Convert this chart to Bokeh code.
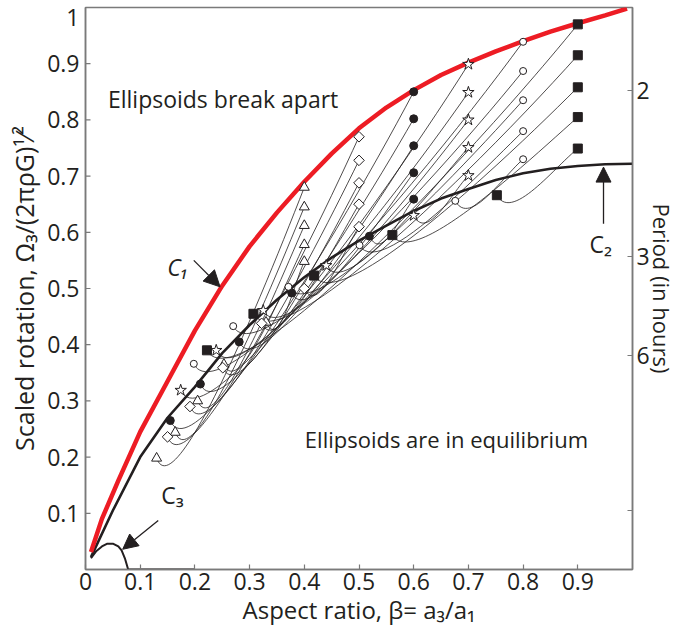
import numpy as np
from bokeh.plotting import figure
from bokeh.models import Range1d, LinearAxis, FixedTicker, Label, Arrow, NormalHead, ColumnDataSource
from bokeh.embed import file_html
from bokeh.resources import INLINE

# ---------------- data ----------------
c1_x = [0.01, 0.03, 0.06, 0.10, 0.15, 0.20, 0.25, 0.30, 0.35, 0.40, 0.45, 0.50,
        0.55, 0.60, 0.65, 0.70, 0.75, 0.80, 0.85, 0.90, 0.95, 0.99]
c1_y = [0.031, 0.09, 0.158, 0.245, 0.335, 0.425, 0.505, 0.575, 0.635, 0.69, 0.74, 0.785,
        0.822, 0.853, 0.88, 0.902, 0.922, 0.94, 0.957, 0.972, 0.986, 0.998]

c2_x = [0.01, 0.05, 0.10, 0.15, 0.20, 0.25, 0.30, 0.35, 0.40, 0.45, 0.50, 0.55,
        0.60, 0.65, 0.70, 0.75, 0.80, 0.85, 0.90, 0.95, 1.00]
c2_y = [0.022, 0.105, 0.20, 0.27, 0.325, 0.385, 0.435, 0.48, 0.52, 0.555, 0.585, 0.612,
        0.638, 0.66, 0.677, 0.693, 0.705, 0.713, 0.718, 0.721, 0.722]

c3_x = [0.01, 0.02, 0.03, 0.04, 0.05, 0.06, 0.066, 0.072, 0.078, 0.2]
c3_y = [0.02, 0.033, 0.041, 0.046, 0.046, 0.041, 0.034, 0.02, 0.0, 0.0]

# start points (x fixed per family) and end points near C2
tri_x0 = 0.4
tri_y0 = [0.68, 0.645, 0.612, 0.578, 0.548]
tri_x1 = [0.13, 0.164, 0.205, 0.253, 0.33]
tri_y1 = [0.198, 0.244, 0.30, 0.365, 0.44]

dia_x0 = 0.5
dia_y0 = [0.77, 0.728, 0.688, 0.65, 0.61]
dia_x1 = [0.15, 0.191, 0.251, 0.322, 0.40]
dia_y1 = [0.236, 0.29, 0.359, 0.438, 0.50]

dot_x0 = 0.6
dot_y0 = [0.85, 0.802, 0.754, 0.706, 0.659]
dot_x1 = [0.155, 0.21, 0.281, 0.377, 0.519]
dot_y1 = [0.265, 0.33, 0.405, 0.492, 0.593]

star_x0 = 0.7
star_y0 = [0.899, 0.849, 0.80, 0.751, 0.701]
star_x1 = [0.174, 0.239, 0.325, 0.44, 0.60]
star_y1 = [0.319, 0.39, 0.461, 0.541, 0.63]

circ_x0 = 0.8
circ_y0 = [0.939, 0.887, 0.835, 0.78, 0.73]
circ_x1 = [0.198, 0.27, 0.371, 0.501, 0.676]
circ_y1 = [0.366, 0.433, 0.503, 0.577, 0.656]

sq_x0 = 0.9
sq_y0 = [0.97, 0.915, 0.858, 0.805, 0.749]
sq_x1 = [0.222, 0.307, 0.418, 0.561, 0.752]
sq_y1 = [0.39, 0.455, 0.523, 0.595, 0.666]

x_ticks = [0.0, 0.1, 0.2, 0.3, 0.4, 0.5, 0.6, 0.7, 0.8, 0.9]
x_tick_labels = ["0", "0.1", "0.2", "0.3", "0.4", "0.5", "0.6", "0.7", "0.8", "0.9"]
y_ticks = [0.1, 0.2, 0.3, 0.4, 0.5, 0.6, 0.7, 0.8, 0.9]
y_label_pos = [0.1, 0.2, 0.3, 0.4, 0.5, 0.6, 0.7, 0.8, 0.9, 0.982]
y_tick_labels = ["0.1", "0.2", "0.3", "0.4", "0.5", "0.6", "0.7", "0.8", "0.9", "1"]
period_ticks = [0.105, 0.381, 0.557, 0.852]
period_labels = ["", "6", "3", "2"]

# ---------------- figure ----------------
INK = "#231f20"
FRAME = "#7a7a7a"
FONT = "Open Sans"

p = figure(width=679, height=637, x_range=Range1d(0, 1), y_range=Range1d(0, 1),
           output_backend="svg", toolbar_location=None,
           min_border_left=85, min_border_right=47, min_border_top=7, min_border_bottom=68)
p.background_fill_color = "white"
p.border_fill_color = "white"
p.grid.grid_line_color = None
p.outline_line_color = FRAME
p.outline_line_width = 1.5

def style_axis(ax, ticks, labels):
    ax.ticker = FixedTicker(ticks=ticks)
    ax.major_label_overrides = dict(zip(ticks, labels))
    ax.axis_line_color = FRAME
    ax.axis_line_width = 1.5
    ax.major_tick_line_color = FRAME
    ax.major_tick_line_width = 1.2
    ax.major_tick_in = 5
    ax.major_tick_out = 0
    ax.minor_tick_line_color = None
    ax.major_label_text_font = FONT
    ax.major_label_text_font_size = "23px"
    ax.major_label_text_color = INK
    ax.axis_label_text_font = FONT
    ax.axis_label_text_color = INK
    ax.axis_label_text_font_style = "normal"

xa = p.xaxis[0]
style_axis(xa, x_ticks, x_tick_labels)
xa.major_label_standoff = 3
xa.axis_label = "Aspect ratio, \u03b2= a\u2083/a\u2081"
xa.axis_label_text_font_size = "24px"
xa.axis_label_standoff = 0

ya = p.yaxis[0]
style_axis(ya, y_label_pos, y_tick_labels)
ya.major_tick_line_color = None      # tick marks drawn below at the real tick values
ya.major_label_standoff = 6
ya.axis_label = "Scaled rotation, \u03a9\u2083/(2\u03c0\u03c1G)\u00b9\u2044\u00b2"
ya.axis_label_text_font_size = "25px"
ya.axis_label_standoff = 3

right_axis = LinearAxis()
style_axis(right_axis, period_ticks, period_labels)
right_axis.major_label_standoff = 4
right_axis.axis_label = "Period (in hours)"
right_axis.axis_label_text_font_size = "22px"
right_axis.axis_label_standoff = -6
p.add_layout(right_axis, "right")

# inward tick marks of the left axis
p.ray(x=[0.0] * len(y_ticks), y=y_ticks, length=5, length_units="screen", angle=0,
      line_color=FRAME, line_width=1.2)

# ---------------- trajectories ----------------
fams = [
    ("triangle", tri_x0, tri_y0, tri_x1, tri_y1, "white", 10, 0.0),
    ("square", dia_x0, dia_y0, dia_x1, dia_y1, "white", 7.5, np.pi / 4),
    ("circle", dot_x0, dot_y0, dot_x1, dot_y1, INK, 8, 0.0),
    ("star", star_x0, star_y0, star_x1, star_y1, "white", 12, 0.0),
    ("circle", circ_x0, circ_y0, circ_x1, circ_y1, "white", 7, 0.0),
    ("square", sq_x0, sq_y0, sq_x1, sq_y1, INK, 9, 0.0),
]

bz = dict(x0=[], y0=[], x1=[], y1=[], cx0=[], cy0=[], cx1=[], cy1=[])
for _, sx, sy, ex, ey, _, _, _ in fams:
    for ys, xe, ye in zip(sy, ex, ey):
        dx = sx - xe
        dy = ys - ye
        bz["x0"].append(sx); bz["y0"].append(ys)
        bz["x1"].append(xe); bz["y1"].append(ye)
        bz["cx0"].append(sx - 0.3 * dx); bz["cy0"].append(ys - 0.42 * dy)
        bz["cx1"].append(xe + 0.02 + 0.05 * dx); bz["cy1"].append(ye - 0.04 - 0.1 * dy)

p.bezier(x0="x0", y0="y0", x1="x1", y1="y1", cx0="cx0", cy0="cy0", cx1="cx1", cy1="cy1",
         source=ColumnDataSource(bz), line_color=INK, line_width=0.8)

# ---------------- limit curves ----------------
p.line(c2_x, c2_y, line_color=INK, line_width=2.6)
p.line(c1_x, c1_y, line_color="#ed1c24", line_width=4.5)
p.line(c3_x, c3_y, line_color=INK, line_width=2)

# ---------------- markers ----------------
for marker, sx, sy, ex, ey, fill, size, ang in fams:
    xs = [sx] * len(sy) + list(ex)
    ys = list(sy) + list(ey)
    p.scatter(xs, ys, marker=marker, size=size, angle=ang, fill_color=fill,
              line_color=INK, line_width=1)

# ---------------- annotations ----------------
def lab(x, y, text, size="22px", align="left", style="normal"):
    p.add_layout(Label(x=x, y=y, text=text, text_align=align,
                       text_baseline="middle", text_font=FONT, text_font_size=size,
                       text_color=INK, text_font_style=style))

lab(0.041, 0.838, "Ellipsoids break apart", size="23px")
lab(0.401, 0.233, "Ellipsoids are in equilibrium")
lab(0.169, 0.539, "C\u2081", size="23px", align="center", style="italic")
lab(0.942, 0.58, "C\u2082", size="23px", align="center")
lab(0.159, 0.132, "C\u2083", size="23px", align="center")

def arrow(xs, ys, xe, ye, size):
    p.add_layout(Arrow(end=NormalHead(size=size, fill_color=INK, line_color=INK),
                       x_start=xs, y_start=ys, x_end=xe, y_end=ye,
                       line_color=INK, line_width=1.3))

arrow(0.198, 0.55, 0.246, 0.503, 16)
arrow(0.947, 0.615, 0.947, 0.716, 15)
arrow(0.133, 0.087, 0.068, 0.036, 15)

open("out.html", "w").write(file_html(p, INLINE))
